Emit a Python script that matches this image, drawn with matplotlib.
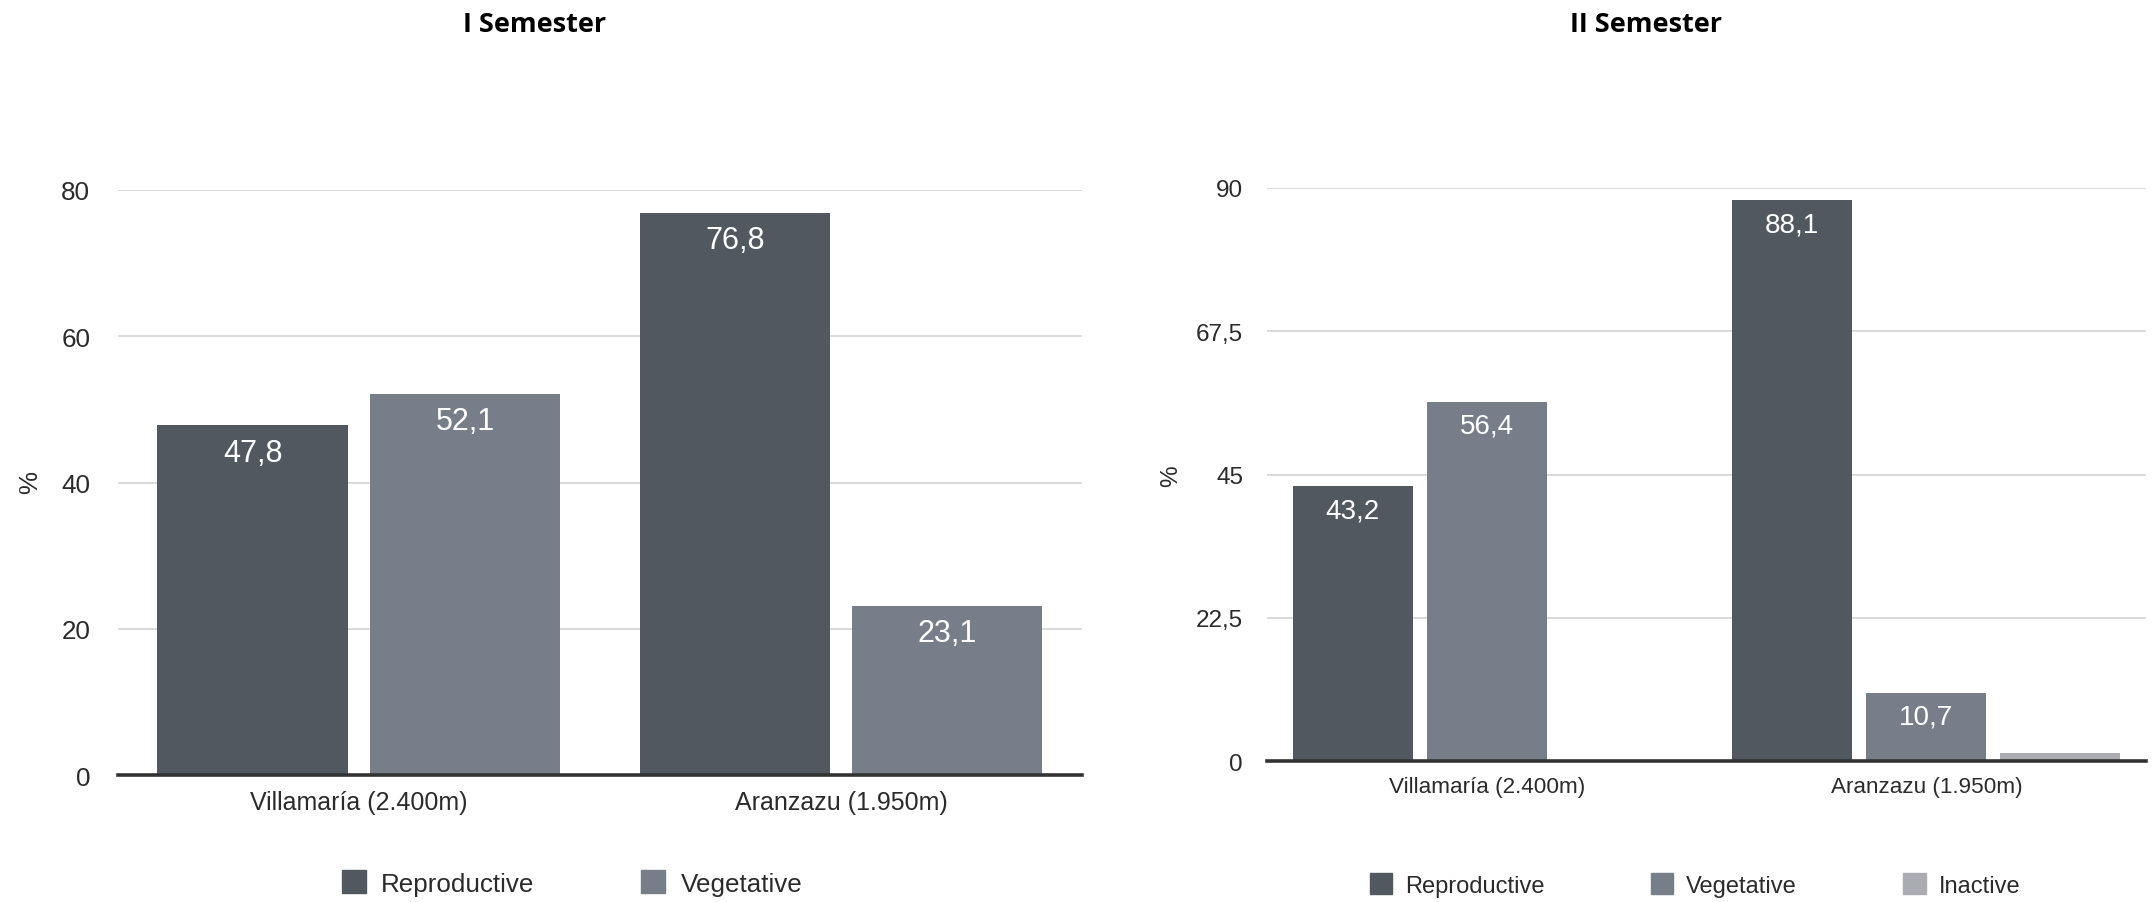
import matplotlib.pyplot as plt
from matplotlib.patches import Patch
from matplotlib.ticker import FuncFormatter

plt.rcParams['font.family'] = ['Liberation Sans', 'DejaVu Sans']

sites = ['Villamaría (2.400m)', 'Aranzazu (1.950m)']

# first semester
s1_series = ['Reproductive', 'Vegetative']
s1_reproductive = [47.8, 76.8]
s1_vegetative = [52.1, 23.1]
s1_ticks = [0, 20, 40, 60, 80]

# second semester
s2_series = ['Reproductive', 'Vegetative', 'Inactive']
s2_reproductive = [43.2, 88.1]
s2_vegetative = [56.4, 10.7]
s2_inactive = [0.0, 1.2]
s2_ticks = [0, 22.5, 45, 67.5, 90]

colors = {'Reproductive': '#52585f', 'Vegetative': '#787e89', 'Inactive': '#a9adb2'}
TEXT = '#2b2b2b'


def comma(v, _pos=None):
    s = f'{v:g}'
    return s.replace('.', ',')


def draw_panel(ax, series, values, ticks, width, step, fs_tick, fs_cat, fs_val, val_off, tick_pad):
    n = len(series)
    x = range(len(sites))
    for i, (name, vals) in enumerate(zip(series, values)):
        off = (i - (n - 1) / 2) * step
        xs = [xi + off for xi in x]
        bars = ax.bar(xs, vals, width=width, color=colors[name], zorder=2)
        if name == 'Inactive':
            continue
        for b, v in zip(bars, vals):
            ax.annotate(comma(v), (b.get_x() + b.get_width() / 2, v),
                        xytext=(0, val_off), textcoords='offset points',
                        ha='center', va='center', color='white', fontsize=fs_val, zorder=3)
    ax.set_xlim(-0.5, 1.5)
    ax.set_ylim(0, ticks[-1])
    ax.set_yticks(ticks)
    ax.yaxis.set_major_formatter(FuncFormatter(comma))
    ax.set_xticks(list(x))
    ax.set_xticklabels(sites)
    ax.tick_params(axis='y', length=0, pad=tick_pad, labelsize=fs_tick, labelcolor=TEXT)
    ax.tick_params(axis='x', length=0, pad=11, labelsize=fs_cat, labelcolor=TEXT)
    ax.grid(axis='y', color='#d9d9d9', linewidth=1.4, zorder=0)
    ax.axhline(0, color='#333333', linewidth=2.6, zorder=4, clip_on=False)
    for sp in ax.spines.values():
        sp.set_visible(False)


fig = plt.figure(figsize=(21.52, 9.03), dpi=100)
ax1 = fig.add_axes([0.0548, 0.1406, 0.448, 0.6479])
ax2 = fig.add_axes([0.5888, 0.1561, 0.4085, 0.6346])

draw_panel(ax1, s1_series, [s1_reproductive, s1_vegetative], s1_ticks,
           width=0.396, step=0.44, fs_tick=18.7, fs_cat=18, fs_val=22, val_off=-19.5, tick_pad=20)
draw_panel(ax2, s2_series, [s2_reproductive, s2_vegetative, s2_inactive], s2_ticks,
           width=0.273, step=0.305, fs_tick=17.5, fs_cat=16.2, fs_val=20, val_off=-17.3, tick_pad=17.3)

fig.text(535 / 2152, 1 - 25 / 903, 'I Semester', ha='center', va='center',
         fontsize=19.5, fontweight='bold', family=['Open Sans', 'DejaVu Sans'])
fig.text(1646 / 2152, 1 - 25 / 903, 'II Semester', ha='center', va='center',
         fontsize=19.5, fontweight='bold', family=['Open Sans', 'DejaVu Sans'])

fig.text(30 / 2152, 1 - 483 / 903, '%', rotation=90, ha='center', va='center',
         fontsize=18.7, color=TEXT)
fig.text(1171 / 2152, 1 - 476 / 903, '%', rotation=90, ha='center', va='center',
         fontsize=17.5, color=TEXT)

h1 = [Patch(color=colors[s], label=s) for s in s1_series]
fig.legend(handles=h1, loc='center', bbox_to_anchor=(572 / 2152, 1 - 884 / 903), ncol=2,
           frameon=False, fontsize=18.7, handlelength=0.92, handleheight=0.96,
           handletextpad=0.6, columnspacing=4.1, labelcolor=TEXT)
h2 = [Patch(color=colors[s], label=s) for s in s2_series]
fig.legend(handles=h2, loc='center', bbox_to_anchor=(1695 / 2152, 1 - 886 / 903), ncol=3,
           frameon=False, fontsize=17, handlelength=0.95, handleheight=0.98,
           handletextpad=0.55, columnspacing=4.5, labelcolor=TEXT)

fig.savefig('out.png', dpi=100)
